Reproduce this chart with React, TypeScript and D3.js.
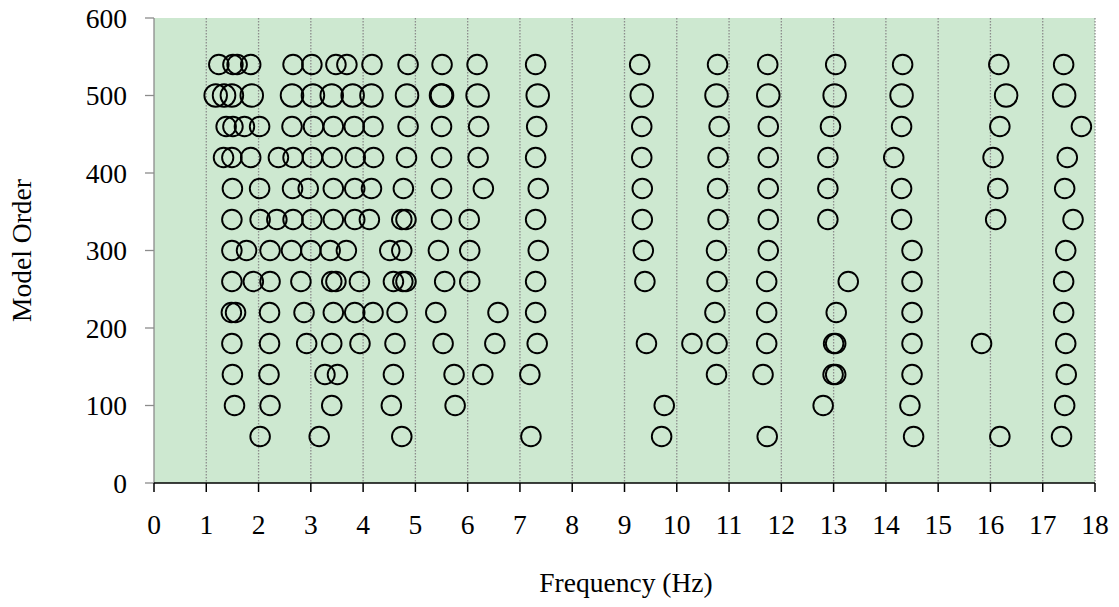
import React from "react";
import * as d3 from "d3";

// Stabilization diagram: identified pole frequencies (Hz) for each model order
const xTicks = d3.range(0, 19);
const yTicks = [0, 100, 200, 300, 400, 500, 600];

const poles540 = [1.24, 1.51, 1.59, 1.85, 2.66, 3.02, 3.48, 3.69, 4.17, 4.86, 5.51, 6.18, 7.30, 9.29, 10.78, 11.74, 13.04, 14.32, 16.16, 17.40];
const poles500 = [1.18, 1.34, 1.49, 1.87, 2.64, 3.04, 3.40, 3.80, 4.16, 4.84, 5.49, 5.51, 6.19, 7.34, 9.33, 10.76, 11.75, 13.02, 14.30, 16.30, 17.41];
const poles460 = [1.38, 1.51, 1.73, 2.02, 2.64, 3.05, 3.43, 3.83, 4.19, 4.86, 5.50, 6.21, 7.32, 9.33, 10.81, 11.75, 12.94, 14.30, 16.18, 17.74];
const poles420 = [1.33, 1.49, 1.85, 2.38, 2.66, 3.03, 3.41, 3.85, 4.20, 4.83, 5.50, 6.20, 7.30, 9.33, 10.79, 11.75, 12.89, 14.15, 16.05, 17.47];
const poles380 = [1.50, 2.02, 2.65, 2.95, 3.43, 3.84, 4.16, 4.77, 5.50, 6.30, 7.35, 9.34, 10.78, 11.75, 12.89, 14.30, 16.14, 17.42];
const poles340 = [1.49, 2.03, 2.35, 2.66, 3.02, 3.43, 3.84, 4.12, 4.74, 4.82, 5.50, 6.03, 7.30, 9.34, 10.79, 11.75, 12.89, 14.30, 16.10, 17.58];
const poles300 = [1.49, 1.77, 2.22, 2.63, 3.00, 3.37, 3.68, 4.51, 4.74, 5.44, 6.04, 7.35, 9.36, 10.76, 11.75, 14.50, 17.44];
const poles260 = [1.49, 1.90, 2.22, 2.81, 3.40, 3.48, 3.93, 4.58, 4.76, 4.82, 5.56, 6.04, 7.30, 9.39, 10.77, 11.72, 13.28, 14.50, 17.40];
const poles220 = [1.48, 1.56, 2.21, 2.87, 3.43, 3.84, 4.19, 4.65, 5.39, 6.58, 7.30, 10.73, 11.72, 13.05, 14.50, 17.40];
const poles180 = [1.49, 2.21, 2.92, 3.40, 3.94, 4.61, 5.53, 6.52, 7.33, 9.42, 10.29, 10.77, 11.72, 13.00, 13.04, 14.50, 15.83, 17.44];
const poles140 = [1.50, 2.20, 3.27, 3.51, 4.58, 5.74, 6.29, 7.19, 10.76, 11.65, 12.99, 13.04, 14.50, 17.45];
const poles100 = [1.54, 2.22, 3.40, 4.54, 5.76, 9.76, 12.80, 14.46, 17.42];
const poles60 = [2.03, 3.16, 4.74, 7.21, 9.71, 11.73, 14.53, 16.18, 17.36];

const modelOrders = [540, 500, 460, 420, 380, 340, 300, 260, 220, 180, 140, 100, 60];
const poleSets = [poles540, poles500, poles460, poles420, poles380, poles340, poles300, poles260, poles220, poles180, poles140, poles100, poles60];

const W = 1119;
const H = 607;
const margin = { left: 154, right: 24, top: 18, bottom: 124 };
const font = "'Liberation Serif', 'Times New Roman', serif";
const fontSize = 27.5;

export default function App() {
  const x = d3.scaleLinear().domain([0, 18]).range([margin.left, W - margin.right]);
  const y = d3.scaleLinear().domain([0, 600]).range([H - margin.bottom, margin.top]);

  const points = modelOrders.flatMap((order, i) =>
    poleSets[i].map((f) => ({ order, f, big: order === 500 }))
  );

  const x0 = x(0);
  const x1 = x(18);
  const yBottom = y(0);
  const yTop = y(600);

  return (
    <svg
      width={W}
      height={H}
      style={{ position: "fixed", left: 0, top: 0, background: "#fff" }}
      fontFamily={font}
    >
      <rect x={x0} y={yTop} width={x1 - x0} height={yBottom - yTop} fill="#cde8d0" />

      {xTicks.slice(1).map((t) => (
        <line
          key={`g${t}`}
          x1={x(t)}
          x2={x(t)}
          y1={yTop}
          y2={yBottom}
          stroke="#8c8c8c"
          strokeWidth={1.3}
          strokeDasharray="1.5 1.5"
        />
      ))}

      {points.map((p, i) => (
        <circle
          key={i}
          cx={x(p.f)}
          cy={y(p.order)}
          r={p.big ? 11.3 : 9.8}
          fill="none"
          stroke="#000"
          strokeWidth={1.9}
        />
      ))}

      {/* y axis */}
      <line x1={x0} x2={x0} y1={yTop} y2={yBottom} stroke="#8c8c8c" strokeWidth={1.3} />
      {yTicks.map((t) => (
        <g key={`y${t}`}>
          <line x1={x0 - 9} x2={x0} y1={y(t)} y2={y(t)} stroke="#8c8c8c" strokeWidth={1.3} />
          <text x={127} y={y(t)} dy="0.35em" textAnchor="end" fontSize={fontSize} fill="#000">
            {t}
          </text>
        </g>
      ))}

      {/* x axis */}
      <line x1={x0} x2={x1} y1={yBottom} y2={yBottom} stroke="#000" strokeWidth={1.5} />
      {xTicks.map((t) => (
        <g key={`x${t}`}>
          <line x1={x(t)} x2={x(t)} y1={yBottom} y2={yBottom + 9} stroke="#000" strokeWidth={1.5} />
          <text x={x(t)} y={534} textAnchor="middle" fontSize={fontSize} fill="#000">
            {t}
          </text>
        </g>
      ))}

      <text x={626} y={592} textAnchor="middle" fontSize={fontSize} fill="#000">
        Frequency (Hz)
      </text>
      <text
        transform={`translate(31, ${(yTop + yBottom) / 2}) rotate(-90)`}
        textAnchor="middle"
        fontSize={fontSize}
        fill="#000"
      >
        Model Order
      </text>
    </svg>
  );
}
